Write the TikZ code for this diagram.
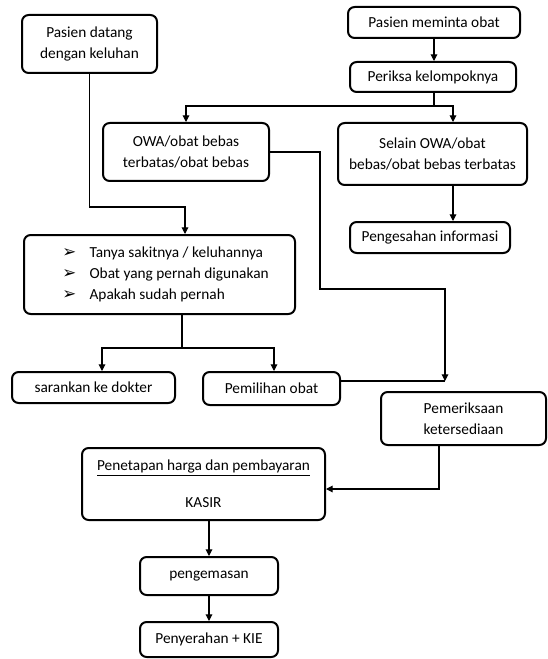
\documentclass[tikz,border=0pt]{standalone}
\usepackage{fontspec}
\setmainfont{Carlito}
\newfontfamily\symfont{DejaVu Sans}
\usetikzlibrary{arrows.meta}
\newcommand{\arrbul}{{\symfont\fontsize{12.5}{10}\selectfont ➢}}

\begin{document}
\begin{tikzpicture}[x=0.75pt,y=-0.75pt,
  box/.style={draw,rounded corners=5pt,line width=1.5pt,align=center,fill=white,inner sep=2pt,font=\fontsize{11.5}{15.75}\selectfont},
  sz/.style 2 args={minimum width=#1*0.75pt,minimum height=#2*0.75pt},
  link/.style={line width=0.8pt},
  arr/.style={link,-{Triangle[length=5pt,width=5pt]}}]
\useasboundingbox (0,0) rectangle (547,659);

\node[box,sz={135}{58}] (datang) at (89.5,44) {Pasien datang\\dengan keluhan};
\node[box,sz={172}{31}] (minta) at (434,22.5) {Pasien meminta obat};
\node[box,sz={166}{30}] (periksa) at (433,77) {Periksa kelompoknya};
\node[box,sz={166}{58}] (owa) at (186,152) {OWA/obat bebas\\terbatas/obat bebas};
\node[box,sz={189}{62}] (selain) at (432.5,154) {Selain OWA/obat\\bebas/obat bebas terbatas};
\node[box,sz={160}{31}] (sah) at (430,237.5) {Pengesahan informasi};
\node[box,sz={271}{79}] (tanya) at (159.5,274.5) {\begin{tabular}{@{\hspace{9pt}}l@{\hspace{10pt}}l@{}}
  \arrbul & Tanya sakitnya / keluhannya\\
  \arrbul & Obat yang pernah digunakan\\
  \arrbul & Apakah sudah pernah
  \end{tabular}};
\node[box,sz={163}{31}] (dokter) at (93.5,387.5) {sarankan ke dokter};
\node[box,sz={137}{33}] (pilih) at (271.5,388.5) {Pemilihan obat};
\node[box,sz={165}{53}] (sedia) at (463.5,418.5) {Pemeriksaan\\ketersediaan};
\node[box,sz={243}{72}] (kasir) at (203.5,484) {\underline{Penetapan harga dan pembayaran}\\[12pt]KASIR};
\node[box,sz={138}{38}] (kemas) at (209,576) {pengemasan};
\node[box,sz={138}{35}] (serah) at (209,639.5) {Penyerahan + KIE};

\coordinate (split) at (434,106);
\coordinate (selainIn) at (453,106);
\coordinate (datangBend) at (185,207);
\coordinate (owaBend) at (320,289);
\coordinate (join) at (445,381);
\coordinate (tanyaSplit) at (182,348);
\coordinate (dokterIn) at (102,348);
\coordinate (pilihIn) at (274,348);
\coordinate (sediaBend) at (439,489);

\draw[arr] (minta.south) -- (minta.south |- periksa.north);
\draw[link] (periksa.south -| split) -- (split);
\draw[arr] (split) -| (owa.north);
\draw[arr] (split) -- (selainIn) -- (selainIn |- selain.north);
\draw[arr] (selainIn |- selain.south) -- (selainIn |- sah.north);
\draw[arr] (datang.south) |- (datangBend) -- (datangBend |- tanya.north);
\draw[arr] (owa.east) -| (owaBend) -| (join);
\draw[link] (pilih.east |- join) -- (join);
\draw[link] (tanyaSplit |- tanya.south) -- (tanyaSplit);
\draw[arr] (tanyaSplit) -- (dokterIn) -- (dokterIn |- dokter.north);
\draw[arr] (tanyaSplit) -- (pilihIn) -- (pilihIn |- pilih.north);
\draw[arr] (sediaBend |- sedia.south) -- (sediaBend) -- (sediaBend -| kasir.east);
\draw[arr] (kemas.north |- kasir.south) -- (kemas.north);
\draw[arr] (serah.north |- kemas.south) -- (serah.north);

\end{tikzpicture}
\end{document}
